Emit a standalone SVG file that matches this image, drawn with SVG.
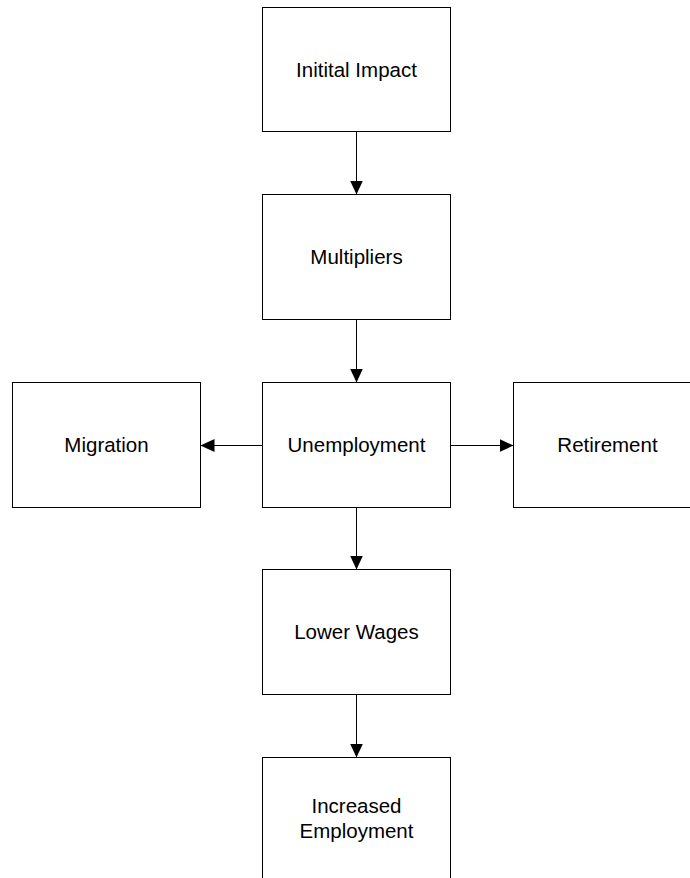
<svg xmlns="http://www.w3.org/2000/svg" width="690" height="878" viewBox="0 0 690 878">
<style>
.box{fill:#fff;stroke:#000;stroke-width:1}
.lbl{font-family:"Liberation Sans",Arial,sans-serif;font-size:20.5px;fill:#000;text-anchor:middle}
.con{stroke:#000;stroke-width:1;fill:none;marker-end:url(#ah)}
</style>
<defs>
<marker id="ah" markerUnits="userSpaceOnUse" markerWidth="14" markerHeight="13" refX="14" refY="6.5" orient="auto">
<path d="M0,0 L14,6.5 L0,13 Z" fill="#000"/>
</marker>
</defs>
<rect width="690" height="878" fill="#fff"/>
<g id="connectors">
<line class="con" x1="356.5" y1="131.5" x2="356.5" y2="194.5"/>
<line class="con" x1="356.5" y1="319.5" x2="356.5" y2="382.5"/>
<line class="con" x1="262.5" y1="445.5" x2="200.5" y2="445.5"/>
<line class="con" x1="450.5" y1="445.5" x2="513.5" y2="445.5"/>
<line class="con" x1="356.5" y1="507.5" x2="356.5" y2="569.5"/>
<line class="con" x1="356.5" y1="694.5" x2="356.5" y2="757.5"/>
</g>
<g id="initial-impact">
<rect class="box" x="262.5" y="7.5" width="188" height="124"/>
<text class="lbl" x="356.5" y="76.5">Initital Impact</text>
</g>
<g id="multipliers">
<rect class="box" x="262.5" y="194.5" width="188" height="125"/>
<text class="lbl" x="356.5" y="264">Multipliers</text>
</g>
<g id="unemployment">
<rect class="box" x="262.5" y="382.5" width="188" height="125"/>
<text class="lbl" x="356.5" y="452">Unemployment</text>
</g>
<g id="migration">
<rect class="box" x="12.5" y="382.5" width="188" height="125"/>
<text class="lbl" x="106.5" y="452">Migration</text>
</g>
<g id="retirement">
<rect class="box" x="513.5" y="382.5" width="188" height="125"/>
<text class="lbl" x="607.5" y="452">Retirement</text>
</g>
<g id="lower-wages">
<rect class="box" x="262.5" y="569.5" width="188" height="125"/>
<text class="lbl" x="356.5" y="639">Lower Wages</text>
</g>
<g id="increased-employment">
<rect class="box" x="262.5" y="757.5" width="188" height="125"/>
<text class="lbl" x="356.5" y="813"><tspan x="356.5" y="813">Increased</tspan><tspan x="356.5" y="838">Employment</tspan></text>
</g>
</svg>
